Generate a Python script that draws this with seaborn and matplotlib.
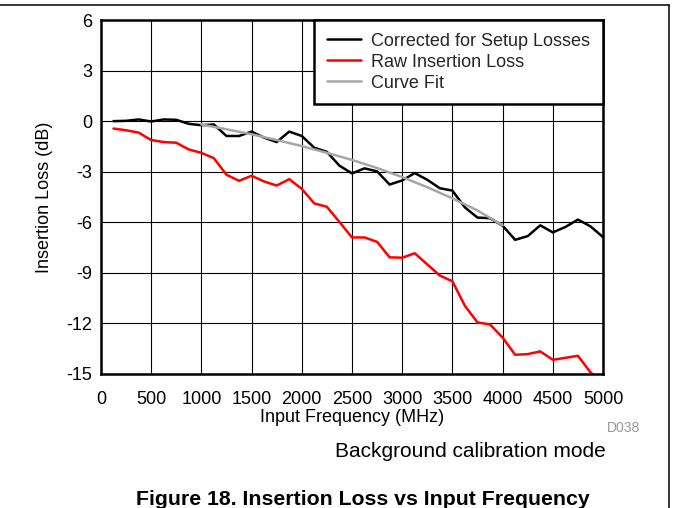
"""
Insertion loss vs input frequency (background calibration mode).
"""

import matplotlib.pyplot as plt
from matplotlib.lines import Line2D
import pandas as pd
import seaborn as sns

# frequency points (MHz)
freq_mhz = [125, 250, 375, 500, 625, 750, 875, 1000, 1125, 1250,
            1375, 1500, 1625, 1750, 1875, 2000, 2125, 2250, 2375, 2500,
            2625, 2750, 2875, 3000, 3125, 3250, 3375, 3500, 3625, 3750,
            3875, 4000, 4125, 4250, 4375, 4500, 4625, 4750, 4875, 5000]

corrected_db = [0.0, 0.02, 0.1, -0.02, 0.1, 0.08, -0.16, -0.24, -0.2, -0.88,
                -0.88, -0.62, -0.98, -1.24, -0.62, -0.88, -1.58, -1.82, -2.64, -3.1,
                -2.8, -2.98, -3.76, -3.52, -3.08, -3.48, -3.98, -4.12, -5.12, -5.72,
                -5.76, -6.2, -7.04, -6.82, -6.18, -6.6, -6.28, -5.84, -6.24, -6.88]

raw_db = [-0.44, -0.54, -0.68, -1.12, -1.24, -1.28, -1.68, -1.88, -2.2, -3.18,
          -3.54, -3.24, -3.58, -3.82, -3.44, -4.02, -4.88, -5.08, -5.98, -6.9,
          -6.9, -7.16, -8.08, -8.1, -7.84, -8.5, -9.16, -9.5, -10.96, -11.94,
          -12.06, -12.84, -13.86, -13.82, -13.66, -14.16, -14.04, -13.92, -14.9, -15.6]

fit_freq_mhz = [1000, 1250, 1500, 1750, 2000, 2250, 2500, 2750, 3000, 3250, 3500, 3750, 4000]
fit_db = [-0.2, -0.48, -0.78, -1.12, -1.48, -1.88, -2.3, -2.78, -3.32, -3.92, -4.58, -5.3, -6.18]

x_ticks = [0, 500, 1000, 1500, 2000, 2500, 3000, 3500, 4000, 4500, 5000]
y_ticks = [-15, -12, -9, -6, -3, 0, 3, 6]

sns.set_theme(style="white")
plt.rcParams["font.family"] = ["Liberation Sans", "DejaVu Sans"]
plt.rcParams["font.size"] = 13
plt.rcParams["axes.unicode_minus"] = False

meas = pd.DataFrame({"freq": freq_mhz, "corrected": corrected_db, "raw": raw_db})
fit = pd.DataFrame({"freq": fit_freq_mhz, "fit": fit_db})

fig = plt.figure(figsize=(6.73, 5.08), dpi=100)
ax = fig.add_axes([0.150, 0.2638, 0.746, 0.6968])

sns.lineplot(data=meas, x="freq", y="corrected", ax=ax, color="black",
             linewidth=1.8, label="Corrected for Setup Losses")
sns.lineplot(data=meas, x="freq", y="raw", ax=ax, color="#ff0000",
             linewidth=1.8, label="Raw Insertion Loss")
sns.lineplot(data=fit, x="freq", y="fit", ax=ax, color="#a6a6a6",
             linewidth=1.8, label="Curve Fit")

ax.set_xlim(0, 5000)
ax.set_ylim(-15, 6)
ax.set_xticks(x_ticks)
ax.set_yticks(y_ticks)
ax.grid(True, color="black", linewidth=0.8)
ax.set_axisbelow(True)
ax.tick_params(axis="both", length=0, labelsize=13, colors="black")
ax.tick_params(axis="x", pad=12)
ax.tick_params(axis="y", pad=6)
for sp in ax.spines.values():
    sp.set_color("black")
    sp.set_linewidth(1.8)

ax.set_xlabel("Input Frequency (MHz)", fontsize=13, labelpad=1, color="black")
ax.set_ylabel("Insertion Loss (dB)", fontsize=13, labelpad=10, color="black")

leg = ax.legend(loc="upper right", borderaxespad=0, fancybox=False,
                frameon=True, fontsize=13, handlelength=1.9, handletextpad=0.55,
                labelspacing=0.22, borderpad=0.7, framealpha=1)
leg.get_frame().set_edgecolor("black")
leg.get_frame().set_linewidth(1.8)

fig.text(0.902, 0.1496, "D038", fontsize=10, color="#999999", ha="left", va="baseline")
fig.text(0.699, 0.101, "Background calibration mode", fontsize=15,
         ha="center", va="baseline", color="black")
fig.text(0.5386, 0.006, "Figure 18. Insertion Loss vs Input Frequency", fontsize=15.3,
         fontweight="bold", ha="center", va="baseline", color="black")

# page frame lines
fig.add_artist(Line2D([0, 0.994], [0.990, 0.990], color="black", linewidth=1.1))
fig.add_artist(Line2D([0.994, 0.994], [0, 0.990], color="black", linewidth=1.1))

fig.savefig("out.png", dpi=100)
